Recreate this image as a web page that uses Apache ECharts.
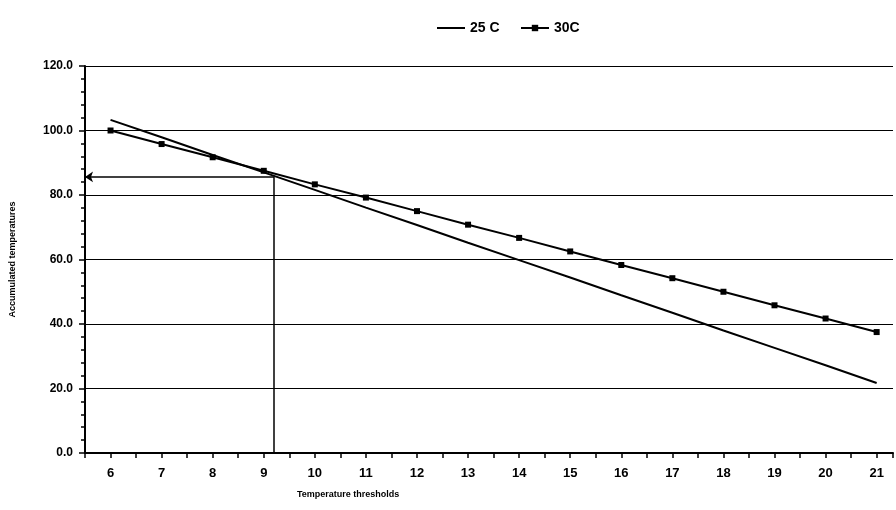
<!DOCTYPE html>
<html>
<head>
<meta charset="utf-8">
<script src="https://cdn.jsdelivr.net/npm/echarts@6/dist/echarts.min.js"></script>
<style>
html, body { margin: 0; padding: 0; background: #fff; }
#main { width: 896px; height: 510px; }
</style>
</head>
<body>
<div id="main"></div>
<script>
// thresholds (x) and accumulated temperatures
var thresholds = [6, 7, 8, 9, 10, 11, 12, 13, 14, 15, 16, 17, 18, 19, 20, 21];
var temp25 = [103.3, 97.9, 92.4, 87.0, 81.6, 76.1, 70.7, 65.2, 59.8, 54.4, 48.9, 43.5, 38.0, 32.6, 27.2, 21.7];
var temp30 = [100.0, 95.8, 91.7, 87.5, 83.3, 79.2, 75.0, 70.8, 66.7, 62.5, 58.3, 54.2, 50.0, 45.8, 41.7, 37.5];
var yTicks = [0, 20, 40, 60, 80, 100, 120];
// reading guide: where the lines cross
var crossX = 9.2;
var crossY = 85.6;

(function (bidDiv) {
    var font = 'Liberation Sans';
    var pair = function (ys) {
        return thresholds.map(function (x, i) { return [x, ys[i]]; });
    };
    var legendText = { color: '#000', fontSize: 14, fontWeight: 'bold', fontFamily: font };
    option = {
        animation: false,
        backgroundColor: '#fff',
        textStyle: { fontFamily: font },
        legend: [
            {
                top: 16,
                left: 432,
                itemWidth: 28,
                itemHeight: 2,
                icon: 'rect',
                textStyle: legendText,
                data: ['25 C']
            },
            {
                top: 16,
                left: 515,
                itemWidth: 28,
                itemHeight: 8,
                textStyle: legendText,
                data: ['30C']
            }
        ],
        title: {
            text: 'Temperature thresholds',
            left: 292,
            top: 485,
            textStyle: { color: '#000', fontSize: 9, fontWeight: 'bold', fontFamily: font }
        },
        grid: { left: 85, top: 66, right: 0, bottom: 57 },
        xAxis: {
            type: 'value',
            min: 5.5,
            max: 21.32,
            interval: 0.5,
            axisLine: { lineStyle: { color: '#000', width: 2 } },
            axisTick: { lineStyle: { color: '#000', width: 1.5 }, length: 5 },
            axisLabel: {
                color: '#000', fontSize: 13, fontWeight: 'bold', margin: 14,
                formatter: function (v) { return Number.isInteger(v) ? String(v) : ''; }
            },
            splitLine: { show: false }
        },
        yAxis: {
            type: 'value',
            min: yTicks[0],
            max: yTicks[yTicks.length - 1],
            interval: 20,
            name: 'Accumulated temperatures',
            nameLocation: 'middle',
            nameGap: 68,
            nameTextStyle: { color: '#000', fontSize: 9, fontWeight: 'bold' },
            axisLine: { show: true, lineStyle: { color: '#000', width: 2 } },
            axisTick: { show: true, length: 6, lineStyle: { color: '#000', width: 1.5 } },
            minorTick: { show: true, splitNumber: 5, length: 4, lineStyle: { color: '#000', width: 1.5 } },
            axisLabel: {
                color: '#000', fontSize: 12, fontWeight: 'bold', margin: 12,
                formatter: function (v) { return v.toFixed(1); }
            },
            splitLine: { show: true, lineStyle: { color: '#000', width: 1 } }
        },
        series: [
            {
                name: '25 C',
                type: 'line',
                data: pair(temp25),
                symbol: 'none',
                lineStyle: { color: '#000', width: 2 },
                itemStyle: { color: '#000' },
                z: 3,
                markLine: {
                    silent: true,
                    symbol: ['none', 'none'],
                    label: { show: false },
                    lineStyle: { color: '#000', width: 1.5, type: 'solid' },
                    data: [
                        [{ coord: [crossX, crossY], symbol: 'none' }, { coord: [5.5, crossY], symbol: 'arrow', symbolSize: 8 }],
                        [{ coord: [crossX, crossY] }, { coord: [crossX, 0] }]
                    ]
                }
            },
            {
                name: '30C',
                type: 'line',
                data: pair(temp30),
                symbol: 'rect',
                symbolSize: 6,
                lineStyle: { color: '#000', width: 2 },
                itemStyle: { color: '#000' },
                z: 3
            }
        ]
    };

    var myChart = echarts.init(document.getElementById(bidDiv));
    myChart.setOption(option);
})("main");
</script>
</body>
</html>
